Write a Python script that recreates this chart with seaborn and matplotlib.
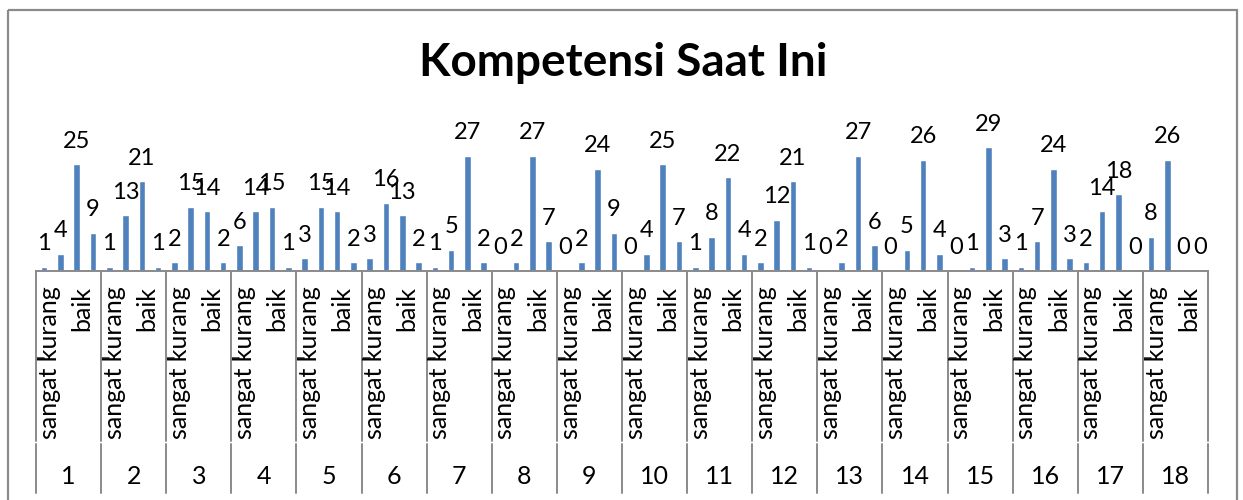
import pandas as pd
import seaborn as sns
import matplotlib.pyplot as plt
import matplotlib.transforms as mtransforms
from matplotlib.lines import Line2D
from matplotlib.patches import Rectangle

# 18 kelompok, 4 kategori penilaian tiap kelompok
kelompok = [str(i) for i in range(1, 19)]
kategori = ["sangat kurang", "kurang", "baik", "sangat baik"]
sangat_kurang = [1, 1, 2, 6, 3, 3, 1, 0, 0, 0, 1, 2, 0, 0, 0, 1, 2, 8]
kurang = [4, 13, 15, 14, 15, 16, 5, 2, 2, 4, 8, 12, 2, 5, 1, 7, 14, 26]
baik = [25, 21, 14, 15, 14, 13, 27, 27, 24, 25, 22, 21, 27, 26, 29, 24, 18, 0]
sangat_baik = [9, 1, 2, 1, 2, 2, 2, 7, 9, 7, 4, 1, 6, 4, 3, 3, 0, 0]

rows = []
for i, k in enumerate(kelompok):
    for kat, vals in zip(kategori, [sangat_kurang, kurang, baik, sangat_baik]):
        rows.append({"kelompok": k, "kategori": kat, "slot": f"{k}-{kat}", "nilai": vals[i]})
df = pd.DataFrame(rows)
slots = list(df["slot"])

sns.set_style("white")
plt.rcParams["font.family"] = ["Lato", "DejaVu Sans"]
plt.rcParams["text.color"] = "black"

W, H = 1243, 500
fig = plt.figure(figsize=(W / 100, H / 100), dpi=100)

# overlay in pixel coordinates for the frame and category grid
ov = fig.add_axes([0, 0, 1, 1])
ov.set_xlim(0, W)
ov.set_ylim(H, 0)
ov.axis("off")
ov.add_patch(Rectangle((8, 10), 1229, 520, fill=False, ec="#8a8a8a", lw=1.6, clip_on=False))

x0, x1, base = 36, 1208, 271
px_per_unit = 4.27
ymax = 35
ax = fig.add_axes([x0 / W, (H - base) / H, (x1 - x0) / W, ymax * px_per_unit / H])
ax.set_facecolor("none")

sns.barplot(data=df, x="slot", y="nilai", order=slots, color="#4F81BD",
            saturation=1, width=0.4, ax=ax)
ax.set_xlim(-0.5, len(slots) - 0.5)
ax.set_ylim(0, ymax)
ax.bar_label(ax.containers[0], padding=9, fontsize=17, color="black")

for s in ["top", "left", "right"]:
    ax.spines[s].set_visible(False)
ax.spines["bottom"].set_color("#8a8a8a")
ax.spines["bottom"].set_linewidth(1.4)
ax.set_xticks([])
ax.set_yticks([])
ax.set_xlabel("")
ax.set_ylabel("")

trans = mtransforms.blended_transform_factory(ax.transData, ov.transData)
trans_lbl = trans + mtransforms.ScaledTranslation(5 / 100, 0, fig.dpi_scale_trans)

n = len(kategori)
for g, k in enumerate(kelompok):
    for j in (0, 2):
        ax.text(g * n + j, 286, kategori[j], transform=trans_lbl, rotation=90,
                ha="center", va="top", fontsize=18, color="black")
    ax.text(g * n + 1.5, 476, k, transform=trans, ha="center", va="center",
            fontsize=18, color="black")

for g in range(len(kelompok) + 1):
    xb = g * n - 0.5
    ax.add_line(Line2D([xb, xb], [base, 441], transform=trans, color="#8a8a8a", lw=1.4, clip_on=False))
    ax.add_line(Line2D([xb, xb], [444, 493], transform=trans, color="#8a8a8a", lw=1.4, clip_on=False))
    if g < len(kelompok):
        xd = ax.transData.transform((xb, 0))[0]
        ov.add_line(Line2D([xd, xd + 8], [358, 358], color="#333333", lw=1.2))

fig.text(623 / W, 1 - 63 / H, "Kompetensi Saat Ini", ha="center", va="center",
         fontsize=33, fontweight="bold", color="black")

fig.savefig("out.png", dpi=100)
